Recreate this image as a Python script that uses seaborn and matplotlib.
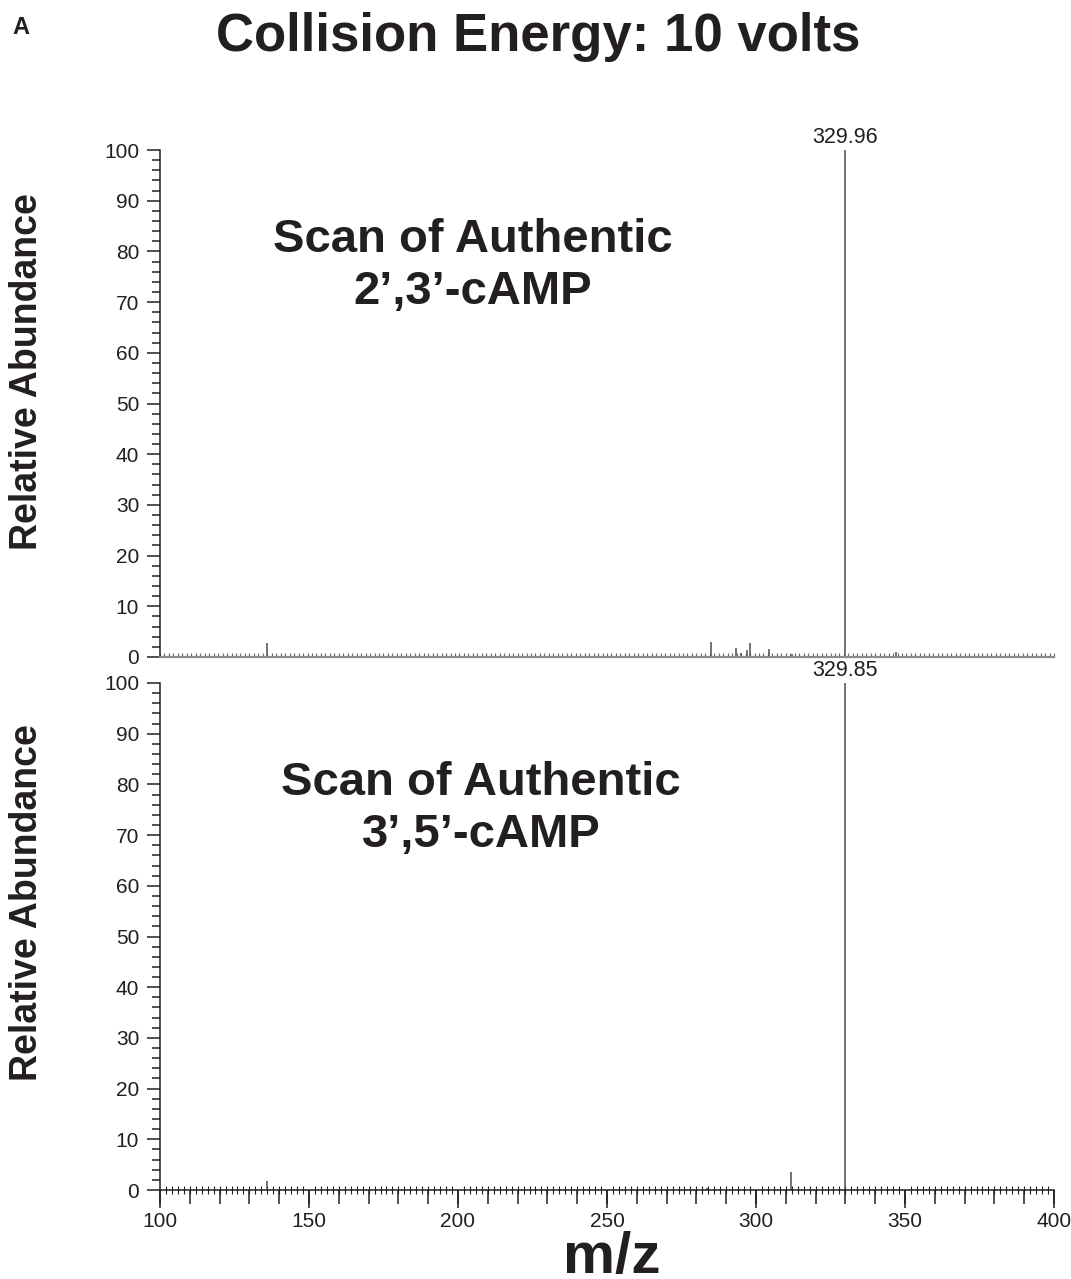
import numpy as np
import pandas as pd
import matplotlib
matplotlib.use("Agg")
import matplotlib.pyplot as plt
import seaborn as sns

# ---- data ----
top_mz = [135.9, 284.9, 293.3, 295.0, 297.0, 297.9, 304.3, 312.0, 329.96, 347.0]
top_ab = [2.8, 3.0, 1.8, 0.8, 1.4, 2.8, 1.6, 0.5, 100.0, 1.0]
bottom_mz = [136.0, 283.4, 311.8, 329.85]
bottom_ab = [1.8, 0.4, 3.5, 100.0]
top_label = "329.96"
bottom_label = "329.85"
top_compound = "Scan of Authentic\n2\u2019,3\u2019-cAMP"
bottom_compound = "Scan of Authentic\n3\u2019,5\u2019-cAMP"
y_ticks = list(range(0, 101, 10))
x_ticks = [100, 150, 200, 250, 300, 350, 400]

sns.set_theme(style="ticks")
plt.rcParams["font.family"] = ["Liberation Sans", "DejaVu Sans"]

W, H = 1071, 1279
fig = plt.figure(figsize=(W / 100, H / 100), dpi=100)

ink = "#231f20"
stem = "#4d4d4d"

def fx(px):
    return px / W

def fy(py):
    return 1 - py / H

left, right = 160, 1054
ax1 = fig.add_axes([fx(left), fy(657), fx(right - left), (657 - 150) / H])
ax2 = fig.add_axes([fx(left), fy(1190), fx(right - left), (1190 - 683) / H])

df_top = pd.DataFrame({"mz": top_mz, "ab": top_ab})
df_bot = pd.DataFrame({"mz": bottom_mz, "ab": bottom_ab})

for ax, df, lab, comp, tx, ty, ly in [
    (ax1, df_top, top_label, top_compound, 473, 266, 372),
    (ax2, df_bot, bottom_label, bottom_compound, 481, 809, 903),
]:
    ax.vlines(df["mz"], 0, df["ab"], color=stem, linewidth=1.1)
    ax.set_xlim(100, 400)
    ax.set_ylim(0, 100)
    ax.set_yticks(y_ticks)
    ax.set_yticks(np.arange(0, 101, 2), minor=True)
    ax.tick_params(axis="y", which="major", length=9.5, width=1.1, color=ink,
                   labelsize=15, labelcolor=ink, pad=5.5, direction="out")
    ax.tick_params(axis="y", which="minor", length=6, width=1.1, color=ink,
                   direction="out")
    ax.spines["left"].set_color(ink)
    ax.spines["left"].set_linewidth(1.1)
    sns.despine(ax=ax, top=True, right=True)
    ax.set_ylabel("")
    fig.text(fx(27), fy(ly), "Relative Abundance", rotation=90, ha="center",
             va="center", fontsize=27, fontweight="bold", color=ink)
    imax = int(np.argmax(df["ab"].values))
    ax.annotate(lab, (df["mz"].iloc[imax], df["ab"].iloc[imax]),
                xytext=(0, 1.5), textcoords="offset points", ha="center",
                va="bottom", fontsize=15.5, color=ink, annotation_clip=False)
    fig.text(fx(tx), fy(ty), comp, ha="center", va="center", fontsize=34,
             fontweight="bold", color=ink, linespacing=1.25)
    ax.patch.set_alpha(0)

# top panel baseline (gray, with tiny noise-like ticks pointing up)
ax1.spines["bottom"].set_color("#8a8a8a")
ax1.spines["bottom"].set_linewidth(1.6)
ax1.set_xticks([])
ax1.set_xticks(np.arange(100, 401, 1.5), minor=True)
ax1.tick_params(axis="x", which="minor", direction="in", length=3, width=0.8,
                color="#666666", labelbottom=False)

# bottom panel x axis
ax2.spines["bottom"].set_color(ink)
ax2.spines["bottom"].set_linewidth(1.1)
ax2.set_xticks(x_ticks)
ax2.set_xticks(np.arange(100, 401, 2), minor=True)
ax2.tick_params(axis="x", which="major", length=13, width=1.1, color=ink,
                labelsize=15, labelcolor=ink, pad=2.5, direction="out")
ax2.tick_params(axis="x", which="minor", length=6, width=0.8, color=ink,
                direction="inout")
sec = ax2.secondary_xaxis("bottom")
sec.set_xticks(list(range(100, 401, 10)))
sec.set_xticklabels([])
sec.tick_params(axis="x", length=10, width=1.1, color=ink, direction="out")
sec.spines["bottom"].set_visible(False)
ax2.set_xlabel("")
fig.text(fx(612), fy(1273), "m/z", ha="center", va="baseline", fontsize=42,
         fontweight="bold", color=ink)

fig.text(fx(12), fy(28), "A", ha="left", va="center", fontsize=17,
         fontweight="bold", color=ink)
fig.text(fx(538), fy(37), "Collision Energy: 10 volts", ha="center",
         va="center", fontsize=38, fontweight="bold", color=ink)

fig.savefig("out.png", dpi=100, facecolor="white")
